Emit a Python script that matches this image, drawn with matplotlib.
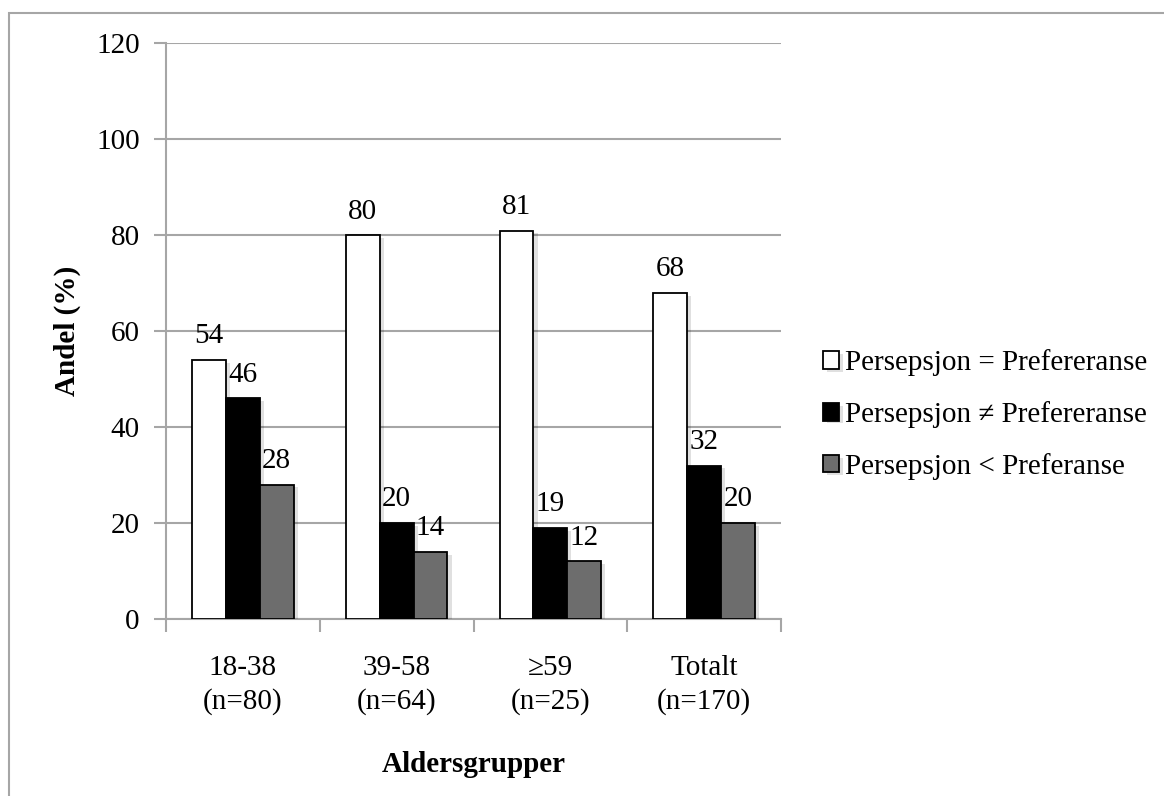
import matplotlib
matplotlib.use("Agg")
import matplotlib.pyplot as plt
import matplotlib.patheffects as pe
from matplotlib.patches import Rectangle
import numpy as np

plt.rcParams['font.family'] = ['Liberation Serif', 'DejaVu Serif']

categories = ["18-38\n(n=80)", "39-58\n(n=64)", "\u226559\n(n=25)", "Totalt\n(n=170)"]
series_names = ["Persepsjon = Prefereranse",
                "Persepsjon \u2260 Prefereranse",
                "Persepsjon < Preferanse"]
lik = [54, 80, 81, 68]
ulik = [46, 20, 19, 32]
lavere = [28, 14, 12, 20]
colors = ["#ffffff", "#000000", "#6d6d6d"]
yticks = [0, 20, 40, 60, 80, 100, 120]

FS = 21
fig = plt.figure(figsize=(11.64, 7.96), dpi=100)
W, H = 1164, 796

# outer chart frame (right and bottom edges run past the canvas)
fig.patches.append(Rectangle((8.5 / W, -0.2), 1.2, 1.2 - 13 / H, transform=fig.transFigure,
                             fill=False, edgecolor="#a6a6a6", linewidth=1.5))

ax = fig.add_axes([166 / W, 1 - 619 / H, (781 - 166) / W, (619 - 43.5) / H])

x = np.arange(len(categories))
bw = 0.22
shadow = [pe.SimplePatchShadow(offset=(3, -2), shadow_rgbFace="#000000", alpha=0.12), pe.Normal()]
for i, (vals, col, name) in enumerate(zip([lik, ulik, lavere], colors, series_names)):
    pos = x + (i - 1) * bw
    bars = ax.bar(pos, vals, width=bw, color=col, edgecolor="black", linewidth=1.3,
                  label=name, zorder=3)
    for b in bars:
        b.set_path_effects(shadow)
    for p, v in zip(pos, vals):
        ax.annotate(f"{v}", (p, v), xytext=(0, 12), textcoords="offset points",
                    ha="center", va="baseline", fontsize=FS, zorder=4)

ax.set_xlim(-0.5, len(categories) - 0.5)
ax.set_ylim(0, 120)
ax.set_yticks(yticks)
ax.set_yticklabels([str(t) for t in yticks], fontsize=FS)
ax.yaxis.grid(True, color="#a6a6a6", linewidth=1.5, zorder=0)
ax.set_axisbelow(True)

ax.set_xticks(x)
ax.set_xticklabels(categories, fontsize=FS, linespacing=1.35)
ax.set_xticks(np.arange(-0.5, len(categories)), minor=True)
ax.tick_params(axis="x", which="major", length=0, pad=26)
ax.tick_params(axis="x", which="minor", length=9, width=1.5, color="#a6a6a6")
ax.tick_params(axis="y", length=9, width=1.5, color="#a6a6a6", pad=10)

for s in ["top", "right"]:
    ax.spines[s].set_visible(False)
for s in ["left", "bottom"]:
    ax.spines[s].set_color("#a6a6a6")
    ax.spines[s].set_linewidth(1.5)

ax.set_ylabel("Andel (%)", fontsize=FS, fontweight="bold", labelpad=11)
ax.set_xlabel("Aldersgrupper", fontsize=FS, fontweight="bold", labelpad=26)

leg = ax.legend(loc="center left", bbox_to_anchor=(1.049, 0.355), frameon=False,
                fontsize=FS, handlelength=0.55, handleheight=0.55, handletextpad=0.2,
                labelspacing=0.85, borderaxespad=0)

fig.savefig("out.png", dpi=100)
